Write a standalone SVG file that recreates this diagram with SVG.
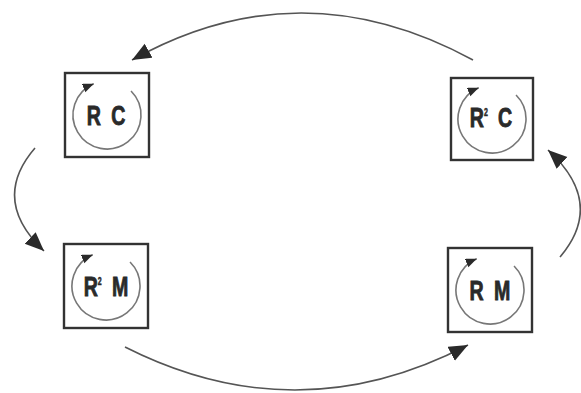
<svg xmlns="http://www.w3.org/2000/svg" xmlns:xlink="http://www.w3.org/1999/xlink" width="581" height="393" viewBox="0 0 581 393">
<style>
.box{fill:#fff;stroke:#333;stroke-width:2.4}
.cyc{fill:none;stroke:#777;stroke-width:1.6}
.lbl{font-family:"Liberation Sans",Arial,sans-serif;font-weight:bold;font-size:28px;fill:#2a2a2a;stroke:#2a2a2a;stroke-width:0.9;text-anchor:middle;word-spacing:7px}
.sup{font-size:10px;stroke-width:0.5}
.conn{fill:none;stroke:#555;stroke-width:1.6}
</style>
<defs>
<marker id="big" markerUnits="userSpaceOnUse" markerWidth="22" markerHeight="18" refX="19" refY="8" orient="auto">
<path d="M0,0 L19,8 L0,16 z" fill="#2a2a2a"/>
</marker>
<marker id="small" markerUnits="userSpaceOnUse" markerWidth="13" markerHeight="11" refX="11" refY="4.5" orient="auto">
<path d="M0,0 L11,4.5 L0,9 z" fill="#2a2a2a"/>
</marker>
<path id="cyc" class="cyc" d="M24.04,-24.04 A34,34 0 1 1 -13.28,-31.30" marker-end="url(#small)"/>
</defs>
<rect width="581" height="393" fill="#fff"/>
<g id="connectors">
<path class="conn" d="M473,60 Q300,-34 132,60" marker-end="url(#big)"/>
<path class="conn" d="M35,148 Q-10,200 44,251" marker-end="url(#big)"/>
<path class="conn" d="M125,347 Q297,434 468,345" marker-end="url(#big)"/>
<path class="conn" d="M560,257 Q606,203 548,150" marker-end="url(#big)"/>
</g>
<g id="node-RC">
<rect class="box" x="65" y="73" width="84" height="84"/>
<use xlink:href="#cyc" transform="translate(107,115)"/>
<text class="lbl" transform="translate(106,125) scale(0.7,1)">R C</text>
</g>
<g id="node-R2C">
<rect class="box" x="451" y="78" width="82" height="82"/>
<use xlink:href="#cyc" transform="translate(492,119)"/>
<text class="lbl" transform="translate(491,127) scale(0.7,1)">R<tspan class="sup" dy="-11">2</tspan><tspan dy="11"> C</tspan></text>
</g>
<g id="node-R2M">
<rect class="box" x="64" y="244" width="84" height="84"/>
<use xlink:href="#cyc" transform="translate(106,286)"/>
<text class="lbl" transform="translate(106,296) scale(0.7,1)">R<tspan class="sup" dy="-11">2</tspan><tspan dy="11"> M</tspan></text>
</g>
<g id="node-RM">
<rect class="box" x="448" y="248" width="84" height="84"/>
<use xlink:href="#cyc" transform="translate(490,290)"/>
<text class="lbl" transform="translate(490,300) scale(0.7,1)">R M</text>
</g>
</svg>
